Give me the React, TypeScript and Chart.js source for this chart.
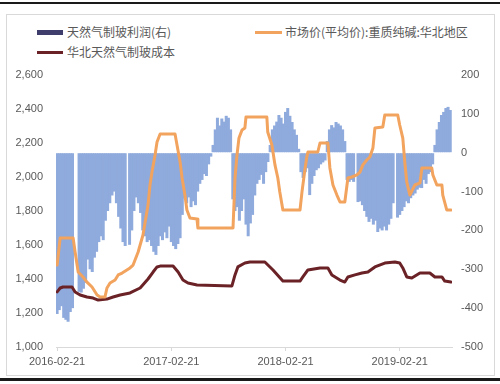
import React, { useEffect, useRef } from "react";
import { Chart, registerables } from "chart.js";

Chart.register(...registerables);

// ---- data ----
const tickWeeks = [0, 52, 104, 156];
const tickLabels = ["2016-02-21", "2017-02-21", "2018-02-21", "2019-02-21"];

// 天然气制玻利润(右) — weekly values, week 0 = 2016-02-21
const profitValues: (number | null)[] = [
  -415, -405, -395, -425, -430, -435, -410, -400, null, null,
  -358, -360, -350, -335, -275, -300, -307, -270, -255, -230,
  -215, -225, -175, -150, -130, -110, -100, -130, -165, -195,
  -230, -240, null, -237, -200, -150, -115, -130, -155, -200,
  -215, -230, -225, -240, -255, -263, -240, -215, -225, -205,
  -220, -190, -230, -240, -248, -235, -220, -160, -118, -130,
  -115, -140, -125, -135, -100, -80, -70, -55, -60, -30,
  -10, 20, 60, 90, 70, 88, 80, 95, 90, 60,
  -120, -150, -140, -175, -150, -120, -185, -215, -182, -160,
  -110, -80, -70, -57, -80, -50, -24, 20, 60, 70,
  80, 97, 90, 75, 105, 115, 95, 79, 60, 46,
  10, -50, -65, -50, -40, -109, -80, -60, -45, -40,
  -30, -25, -20, 30, 60, 71, 65, 79, 75, 70,
  60, 30, -70, -75, -70, -75, null, -127, -125, -135,
  -150, -165, -178, -170, -185, -175, -204, -195, -200, -190,
  -200, -185, -170, -130, null, -167, -160, -150, -140, -125,
  -130, -117, -110, -105, -95, -90, -91, -70, -80, -55,
  -50, -30, 20, 60, 79, 97, 105, 115, 118, 110,
];

// 市场价(平均价):重质纯碱:华北地区
const priceWeeks = [
  0, 1.4, 7.3, 8.2, 9.6, 11.8, 13.6, 15.9, 18.2, 19.6, 21.8, 22.7, 24.1, 26.4,
  27.8, 29.6, 33.2, 34.6, 36.9, 39.1, 41.4, 42.3, 43.2, 44.6, 45.5, 46.9, 53.7,
  54.6, 56, 56.9, 58.2, 59.1, 60.5, 63.7, 64.1, 80.1, 81, 81.9, 82.8, 84.2,
  85.5, 86, 95.5, 95.9, 97.8, 99.2, 100.5, 101.4, 102.8, 110.6, 111.5, 112.8,
  113.7, 114.2, 118.7, 119.7, 123.3, 124.2, 125.6, 127.4, 128.8, 131, 132.4,
  134.2, 136.5, 137.9, 139.2, 141, 142.4, 143.8, 144.7, 148.3, 149.2, 155.1,
  156, 157.4, 158.3, 159.2, 160.6, 162.9, 165.2, 166.1, 170.6, 171.1, 172.9,
  175.2, 175.6, 177.4, 179.3,
];
const priceValues = [
  1482, 1641, 1641, 1559, 1441, 1412, 1382, 1353, 1306, 1294, 1294, 1347, 1376, 1394,
  1424, 1435, 1465, 1482, 1559, 1659, 1835, 1953, 2029, 2129, 2206, 2253, 2253,
  2188, 2088, 1994, 1894, 1806, 1759, 1753, 1700, 1700, 1994, 2129, 2229, 2276,
  2288, 2353, 2353, 2265, 2188, 2071, 1994, 1912, 1806, 1806, 1912, 2041,
  2118, 2147, 2147, 2200, 2200, 2053, 1953, 1894, 1853, 1853, 1994,
  2000, 2012, 2029, 2071, 2100, 2118, 2171, 2288, 2294, 2365, 2365,
  2306, 2229, 2088, 1971, 1894, 1953, 1965, 2053, 2053, 2012, 1953,
  1953, 1894, 1806, 1806,
];

// 华北天然气制玻成本
const costWeeks = [
  0, 1.4, 2.7, 6.8, 8.2, 10.5, 13.6, 16.4, 18.7, 22.7, 25.5, 28.7, 33.2, 37.8,
  41.4, 43.7, 45.5, 46.9, 52.8, 55.1, 57.3, 59.6, 63.7, 79.6, 81, 82.3, 85.5,
  87.8, 94.6, 98.3, 102.8, 110.6, 111.9, 114.2, 119.7, 123.3, 125.1, 128.8, 131,
  132.4, 135.6, 138.8, 141.5, 144.7, 149.2, 153.8, 156, 157.4, 159.2, 161.5,
  165.2, 169.7, 172, 175.2, 176.5, 179.3,
];
const costValues = [
  1324, 1347, 1353, 1353, 1324, 1306, 1294, 1288, 1276, 1282, 1294, 1306, 1318, 1347,
  1400, 1441, 1471, 1476, 1476, 1441, 1394, 1376, 1365, 1359, 1424, 1471, 1494,
  1500, 1500, 1453, 1388, 1388, 1412, 1453, 1465, 1465, 1424, 1394, 1382,
  1412, 1424, 1435, 1441, 1471, 1494, 1500, 1494, 1465, 1412, 1406,
  1435, 1435, 1412, 1412, 1388, 1382,
];

const seriesNames = ["天然气制玻利润(右)", "市场价(平均价):重质纯碱:华北地区", "华北天然气制玻成本"];

const BAR_COLOR = "#8FAADC";
const PRICE_COLOR = "#F2A35E";
const COST_COLOR = "#6A2226";
const LEGEND_BAR = "#3F3D6B";
const TEXT_COLOR = "#595959";
const AXIS_COLOR = "#D9D9D9";

export default function App() {
  const ref = useRef<HTMLCanvasElement | null>(null);

  useEffect(() => {
    if (!ref.current) return;
    const tickFont = { family: "'Liberation Sans', Arial, sans-serif", size: 11 };
    const chart = new Chart(ref.current, {
      type: "bar",
      data: {
        datasets: [
          {
            type: "line",
            label: seriesNames[1],
            data: priceWeeks.map((w, i) => ({ x: w, y: priceValues[i] })),
            borderColor: PRICE_COLOR,
            backgroundColor: PRICE_COLOR,
            borderWidth: 3,
            pointRadius: 0,
            tension: 0,
            borderJoinStyle: "round",
            borderCapStyle: "round",
            yAxisID: "y",
            order: 1,
          } as any,
          {
            type: "line",
            label: seriesNames[2],
            data: costWeeks.map((w, i) => ({ x: w, y: costValues[i] })),
            borderColor: COST_COLOR,
            backgroundColor: COST_COLOR,
            borderWidth: 3,
            pointRadius: 0,
            tension: 0,
            borderJoinStyle: "round",
            borderCapStyle: "round",
            yAxisID: "y",
            order: 2,
          } as any,
          {
            type: "bar",
            label: seriesNames[0],
            data: profitValues.map((v, i) => ({ x: i, y: v })),
            backgroundColor: BAR_COLOR,
            borderWidth: 0,
            barThickness: 3,
            inflateAmount: 0,
            yAxisID: "y1",
            order: 10,
          } as any,
        ],
      },
      options: {
        responsive: false,
        animation: false,
        layout: { padding: { top: 60, left: 0, right: 0, bottom: 0 } },
        plugins: { legend: { display: false }, tooltip: { enabled: false } },
        scales: {
          x: {
            type: "linear",
            offset: false,
            min: -0.5,
            max: 179.8,
            afterBuildTicks: (s: any) => {
              s.ticks = tickWeeks.map((v) => ({ value: v }));
            },
            afterFit: (s: any) => {
              s.height = 27;
            },
            ticks: {
              autoSkip: false,
              maxRotation: 0,
              padding: 4,
              color: TEXT_COLOR,
              font: tickFont,
              callback: (v: any) => {
                const i = tickWeeks.indexOf(Number(v));
                return i >= 0 ? tickLabels[i] : "";
              },
            },
            grid: { offset: false, drawOnChartArea: false, drawTicks: true, tickLength: 4, color: AXIS_COLOR },
            border: { display: true, color: AXIS_COLOR },
          },
          y: {
            position: "left",
            min: 1000,
            max: 2600,
            afterFit: (s: any) => {
              s.width = 49;
            },
            ticks: { stepSize: 200, padding: 13, color: TEXT_COLOR, font: tickFont },
            grid: { drawOnChartArea: false, drawTicks: false },
            border: { display: false },
          },
          y1: {
            position: "right",
            min: -500,
            max: 200,
            afterFit: (s: any) => {
              s.width = 42;
            },
            ticks: { stepSize: 100, padding: 9, color: TEXT_COLOR, font: tickFont },
            grid: { drawOnChartArea: false, drawTicks: false },
            border: { display: false },
          },
        },
      } as any,
    });
    return () => chart.destroy();
  }, []);

  const legendText: React.CSSProperties = {
    position: "absolute",
    fontFamily: "'Noto Sans CJK SC', sans-serif",
    fontSize: 12,
    color: TEXT_COLOR,
    lineHeight: "14px",
    whiteSpace: "nowrap",
  };

  return (
    <div style={{ position: "fixed", left: 0, top: 0, width: 500, height: 384, background: "#fff", overflow: "hidden" }}>
      <div style={{ position: "absolute", left: 0, top: 2, width: 500, height: 2, background: "#1a1a1a" }} />
      <div style={{ position: "absolute", left: 0, top: 378, width: 500, height: 3, background: "#1a1a1a" }} />
      <div
        style={{
          position: "absolute",
          left: 6,
          top: 14,
          width: 487,
          height: 360,
          border: "1px solid #D9D9D9",
        }}
      />
      <div style={{ position: "absolute", left: 37, top: 30, width: 26, height: 5, background: LEGEND_BAR }} />
      <span style={{ ...legendText, left: 67, top: 25 }}>{seriesNames[0]}</span>
      <div style={{ position: "absolute", left: 255, top: 31, width: 27, height: 3, background: PRICE_COLOR }} />
      <span style={{ ...legendText, left: 285, top: 25 }}>{seriesNames[1]}</span>
      <div style={{ position: "absolute", left: 37, top: 51, width: 26, height: 3, background: COST_COLOR }} />
      <span style={{ ...legendText, left: 67, top: 45 }}>{seriesNames[2]}</span>
      <canvas
        ref={ref}
        width={487}
        height={359}
        style={{ position: "absolute", left: 7, top: 15, width: 487, height: 359 }}
      />
    </div>
  );
}
